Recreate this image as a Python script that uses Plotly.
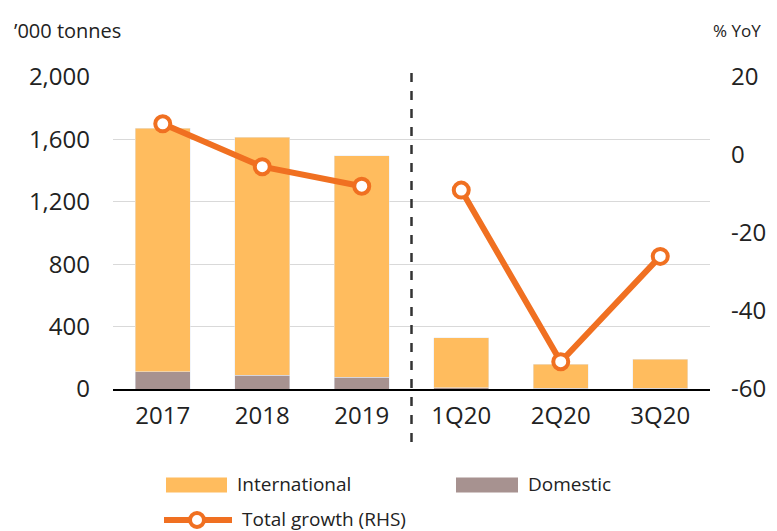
import plotly.graph_objects as go

categories = ["2017", "2018", "2019", "1Q20", "2Q20", "3Q20"]
international = [1563, 1527, 1419, 321, 156, 185]
domestic = [110, 88, 75, 8, 4, 5]
growth_annual = [8, -3, -8]
growth_quarter = [-9, -53, -26]
left_ticks = [0, 400, 800, 1200, 1600, 2000]
right_ticks = [-60, -40, -20, 0, 20]
right_tick_labels = ["-60", "-40", "-20", "0", "20"]

ORANGE_BAR = "#FFBC5E"
GREY_BAR = "#A79290"
LINE = "#F07021"
FONT = "Open Sans"
TXT = "#222222"

fig = go.Figure()
fig.add_trace(go.Bar(x=categories, y=domestic, name="Domestic",
                     marker_color=GREY_BAR, showlegend=False))
fig.add_trace(go.Bar(x=categories, y=international, name="International",
                     marker_color=ORANGE_BAR, showlegend=False))
for xs, ys in ((categories[:3], growth_annual), (categories[3:], growth_quarter)):
    fig.add_trace(go.Scatter(x=xs, y=ys, yaxis="y2",
                             mode="lines+markers", name="Total growth (RHS)",
                             line=dict(color=LINE, width=6),
                             marker=dict(symbol="circle", size=15, color="white",
                                         line=dict(color=LINE, width=4)),
                             showlegend=False))

fig.update_layout(
    width=777, height=531,
    margin=dict(l=113, r=67, t=77, b=142),
    paper_bgcolor="white", plot_bgcolor="white",
    barmode="stack", bargap=0.45,
    font=dict(family=FONT, color=TXT),
    xaxis=dict(type="category", categoryorder="array", categoryarray=categories,
               showline=True, linecolor="#000000", linewidth=1.5,
               ticks="", tickfont=dict(size=24, color=TXT),
               ticklabelstandoff=4),
    yaxis=dict(range=[0, 2000], tickvals=left_ticks, tickformat=",",
               showgrid=True, gridcolor="#D9D9D9", gridwidth=1,
               zeroline=False, ticks="", tickfont=dict(size=24, color=TXT),
               ticklabelstandoff=22),
    yaxis2=dict(overlaying="y", side="right", range=[-60, 20],
                tickvals=right_ticks, ticktext=right_tick_labels,
                showgrid=False, zeroline=False,
                ticks="", tickfont=dict(size=24, color=TXT),
                ticklabelstandoff=20),
)


def px_x(p):
    return (p - 113) / 597


def px_y(p):
    return (389 - p) / 312


# axis titles
fig.add_annotation(text="\u2019000 tonnes", xref="paper", yref="paper",
                   x=px_x(12), y=px_y(30), xanchor="left", yanchor="middle",
                   showarrow=False, font=dict(size=20, color=TXT))
fig.add_annotation(text="% YoY", xref="paper", yref="paper",
                   x=px_x(763), y=px_y(30), xanchor="right", yanchor="middle",
                   showarrow=False, font=dict(size=17, color=TXT))

# dashed divider between annual and quarterly data
fig.add_shape(type="line", xref="x", yref="paper", x0=2.5, x1=2.5,
              y0=px_y(442), y1=px_y(72),
              line=dict(color="#333333", width=2.5, dash="dash"))

# legend (drawn)
legend_items = [
    ("International", ORANGE_BAR, 166, 227, 485, "bar"),
    ("Domestic", GREY_BAR, 456, 518, 485, "bar"),
    ("Total growth (RHS)", LINE, 164, 232, 520, "line"),
]
for label, color, xa, xb, yc, kind in legend_items:
    if kind == "bar":
        fig.add_shape(type="rect", xref="paper", yref="paper",
                      x0=px_x(xa), x1=px_x(xb), y0=px_y(yc + 7.5), y1=px_y(yc - 7.5),
                      line=dict(width=0), fillcolor=color)
    else:
        fig.add_shape(type="line", xref="paper", yref="paper",
                      x0=px_x(xa), x1=px_x(xb), y0=px_y(yc), y1=px_y(yc),
                      line=dict(color=color, width=6))
        fig.add_shape(type="circle", xref="paper", yref="paper",
                      x0=px_x(197 - 7), x1=px_x(197 + 7),
                      y0=px_y(yc + 7), y1=px_y(yc - 7),
                      line=dict(color=color, width=4), fillcolor="white")
    fig.add_annotation(text=label, xref="paper", yref="paper",
                       x=px_x(xb + 8), y=px_y(yc - 1), xanchor="left", yanchor="middle",
                       showarrow=False, font=dict(size=19, color=TXT))

fig.write_html("out.html")
